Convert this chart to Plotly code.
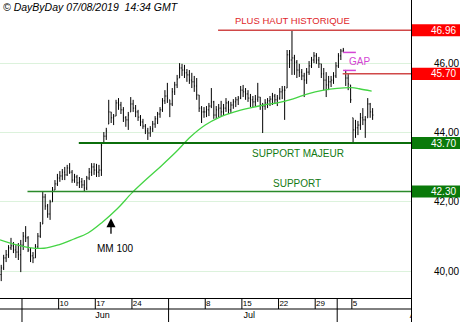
import pandas as pd
import plotly.graph_objects as go

# ---------------- data ----------------
SESSIONS = pd.bdate_range("2019-05-29", "2019-08-07")   # trading days shown
FIRST_JUNE = pd.Timestamp("2019-06-03")
BARS_PER_DAY = 3

bar_high = [40.18, 40.47, 40.61, 40.75, 40.96, 40.84, 40.75, 40.81, 40.90, 41.13,
            41.30, 41.01, 40.67, 40.55, 40.78, 41.10, 41.42, 42.29, 42.23, 41.94,
            42.06, 42.43, 42.63, 42.81, 42.89, 42.95, 43.01, 43.07, 43.12, 42.92,
            42.81, 42.78, 42.72, 42.69, 42.63, 42.75, 42.98, 43.12, 43.12, 43.10,
            43.07, 43.73, 44.02, 44.14, 44.95, 44.60, 44.54, 44.95, 45.00, 44.89,
            44.74, 44.48, 44.60, 45.03, 44.95, 44.80, 44.66, 44.51, 44.40, 44.25,
            44.14, 44.19, 44.34, 44.48, 44.60, 44.74, 45.00, 45.23, 45.44, 44.95,
            45.29, 45.47, 45.67, 46.01, 45.99, 45.96, 45.84, 45.81, 45.73, 45.64,
            45.58, 45.09, 44.77, 44.74, 44.77, 44.86, 45.29, 44.92, 44.77, 44.83,
            44.92, 44.83, 45.00, 44.92, 44.89, 44.97, 45.03, 45.06, 45.35, 45.38,
            45.29, 45.23, 45.12, 45.06, 45.09, 45.44, 45.03, 44.86, 44.97, 45.00,
            45.06, 45.15, 45.12, 45.09, 45.29, 45.35, 45.35, 46.39, 46.39, 46.96,
            46.25, 46.10, 45.99, 45.84, 45.73, 45.87, 46.07, 46.19, 46.33, 46.30,
            46.19, 45.99, 45.87, 45.75, 45.64, 45.64, 45.75, 46.04, 46.30, 46.42,
            46.45, 45.80, 45.70, 45.38, 44.43, 44.37, 44.34, 44.57, 44.71, 44.48,
            45.00, 44.86, 44.71]

bar_low = [39.71, 40.03, 40.26, 40.38, 40.61, 40.52, 40.38, 40.32, 39.97, 40.61,
           40.84, 40.55, 40.26, 40.23, 40.38, 40.64, 40.96, 41.36, 41.77, 41.54,
           41.48, 42.00, 42.34, 42.46, 42.58, 42.63, 42.63, 42.75, 42.81, 42.55,
           42.55, 42.46, 42.40, 42.40, 42.29, 42.34, 42.63, 42.75, 42.78, 42.72,
           42.72, 42.75, 43.70, 43.79, 44.25, 44.28, 44.22, 44.48, 44.66, 44.54,
           44.31, 44.17, 44.08, 44.60, 44.60, 44.45, 44.34, 44.19, 44.11, 43.96,
           43.79, 43.88, 44.02, 44.14, 44.25, 44.43, 44.60, 44.83, 44.86, 44.45,
           44.77, 45.09, 45.29, 45.58, 45.64, 45.58, 45.47, 45.41, 45.29, 45.18,
           44.95, 44.60, 44.28, 44.43, 44.45, 44.48, 44.71, 44.40, 44.40, 44.45,
           44.48, 44.51, 44.60, 44.54, 44.57, 44.69, 44.74, 44.80, 44.97, 45.03,
           44.95, 44.89, 44.74, 44.74, 44.77, 44.89, 44.66, 43.99, 44.66, 44.71,
           44.77, 44.80, 44.83, 44.77, 44.95, 44.97, 44.37, 45.29, 45.87, 45.67,
           45.67, 45.58, 45.61, 45.52, 45.03, 45.41, 45.67, 45.87, 46.01, 45.99,
           45.87, 45.58, 45.23, 45.03, 45.23, 45.32, 45.41, 45.58, 45.87, 46.10,
           46.32, 45.35, 45.23, 44.86, 43.72, 43.85, 43.93, 44.08, 44.22, 43.85,
           44.43, 44.43, 44.37]

bar_close = [40.09, 40.38, 40.47, 40.67, 40.73, 40.61, 40.55, 40.47, 40.75, 41.01,
             40.96, 40.61, 40.44, 40.38, 40.70, 41.01, 41.30, 42.14, 41.88, 41.65,
             42.00, 42.34, 42.52, 42.69, 42.75, 42.86, 42.78, 42.98, 42.86, 42.63,
             42.72, 42.55, 42.58, 42.49, 42.40, 42.69, 42.86, 43.01, 42.92, 42.86,
             42.92, 43.64, 43.90, 44.05, 44.60, 44.43, 44.48, 44.86, 44.80, 44.66,
             44.43, 44.37, 44.51, 44.83, 44.71, 44.60, 44.45, 44.31, 44.19, 44.05,
             43.99, 44.11, 44.25, 44.40, 44.54, 44.66, 44.92, 45.06, 45.00, 44.83,
             45.18, 45.38, 45.55, 45.87, 45.81, 45.73, 45.67, 45.52, 45.47, 45.35,
             45.09, 44.71, 44.60, 44.60, 44.66, 44.77, 44.89, 44.51, 44.66, 44.71,
             44.60, 44.71, 44.86, 44.66, 44.80, 44.89, 44.95, 45.00, 45.23, 45.18,
             45.12, 45.00, 44.95, 44.89, 44.97, 45.03, 44.80, 44.77, 44.86, 44.92,
             44.97, 45.06, 44.95, 45.00, 45.18, 45.23, 45.23, 46.25, 46.10, 46.16,
             46.04, 45.81, 45.75, 45.64, 45.52, 45.75, 45.93, 46.10, 46.22, 46.10,
             45.99, 45.70, 45.52, 45.38, 45.47, 45.52, 45.64, 45.93, 46.22, 46.36,
             46.39, 45.58, 45.41, 44.95, 44.08, 44.14, 44.22, 44.43, 44.37, 44.37,
             44.83, 44.60, 44.51]
first_open = 39.90

# 100-period moving average (trading-day index, value)
ma_day = [-3, -1, 1, 3, 5, 7, 9, 11, 13, 15, 17, 19, 21, 23, 25, 27, 29, 31,
          33, 35, 37, 39, 41, 43, 45, 46, 47.7]
ma_val = [40.90, 40.77, 40.68, 40.66, 40.76, 40.92, 41.10, 41.42, 41.80, 42.26,
          42.66, 43.04, 43.44, 43.88, 44.22, 44.45, 44.60, 44.71, 44.80, 44.87,
          44.98, 45.12, 45.22, 45.28, 45.30, 45.27, 45.20]

# horizontal levels and the session where each line starts
level_val = [46.96, 45.70, 43.70, 42.30]
level_start = ["2019-07-10", "2019-08-02", "2019-06-13", "2019-06-04"]
gap_top, gap_bottom = 46.32, 45.80

y_ticks = [40, 42, 44, 46]
week_dates = ["2019-06-10", "2019-06-17", "2019-06-24", "2019-07-08",
              "2019-07-15", "2019-07-22", "2019-07-29", "2019-08-05"]
week_labels = ["10", "17", "24", "8", "15", "22", "29", "5"]
month_dates = ["2019-06-03", "2019-07-01", "2019-08-01"]
month_labels = ["Jun", "Jul", "Aug"]

# ---------------- helpers ----------------
base = SESSIONS.get_loc(FIRST_JUNE)


def day_idx(date_str):
    return SESSIONS.get_loc(pd.Timestamp(date_str)) - base


bar_x = []
for i in range(len(SESSIONS)):
    for j in range(BARS_PER_DAY):
        bar_x.append(i - base + (j + 0.5) / BARS_PER_DAY)
n = len(bar_close)
bar_x = bar_x[:n]
bar_open = [first_open] + [min(max(bar_close[k - 1], bar_low[k]), bar_high[k]) for k in range(1, n)]

X_MIN, X_MAX = -3.0, 53.07
Y_MIN, Y_MAX = 39.222, 47.835
W, H = 460, 322
PLOT_R = 411 / W
STRIP = 24 / H

RED_LINE = "#d04848"
GREEN_DARK = "#0b6e0b"
GREEN_MID = "#2a8a2a"
MAGENTA = "#d445d4"
FONT = "Liberation Sans, Arial, sans-serif"

fig = go.Figure()

fig.add_trace(go.Ohlc(
    x=bar_x, open=bar_open, high=bar_high, low=bar_low, close=bar_close,
    increasing=dict(line=dict(color="black", width=1)),
    decreasing=dict(line=dict(color="black", width=1)),
    tickwidth=0.3, hoverinfo="skip", showlegend=False,
    xaxis="x", yaxis="y"))

fig.add_trace(go.Scatter(
    x=ma_day, y=ma_val, mode="lines",
    line=dict(color="#44d444", width=1.3, shape="spline", smoothing=1.0),
    hoverinfo="skip", showlegend=False, xaxis="x", yaxis="y"))

shapes = []
line_colors = [RED_LINE, RED_LINE, GREEN_DARK, GREEN_MID]
line_widths = [1.5, 1.5, 2, 1.5]
box_colors = ["#ff0000", "#ff0000", "#0a7a0a", "#0a7a0a"]
annotations = []
for v, s, c, w, bc in zip(level_val, level_start, line_colors, line_widths, box_colors):
    shapes.append(dict(type="line", xref="x", yref="y", x0=day_idx(s) - 0.25, x1=X_MAX,
                       y0=v, y1=v, line=dict(color=c, width=w)))
    shapes.append(dict(type="rect", xref="paper", yref="y", x0=412 / W, x1=1,
                       y0=v - 0.175, y1=v + 0.175, line=dict(width=0), fillcolor=bc))
    annotations.append(dict(xref="paper", yref="y", x=458 / W, y=v, xanchor="right",
                            yanchor="middle", text=f"{v:.2f}", showarrow=False,
                            font=dict(family=FONT, size=10, color="white")))

# gap markers
g0 = day_idx("2019-08-01") + 0.8
g1 = day_idx("2019-08-05") + 0.55
for gv in (gap_top, gap_bottom):
    shapes.append(dict(type="line", xref="x", yref="y", x0=g0, x1=g1, y0=gv, y1=gv,
                       line=dict(color=MAGENTA, width=1.5)))

# bottom strip: week / month separators
for d in week_dates:
    x = day_idx(d)
    shapes.append(dict(type="line", xref="x2", yref="y2", x0=x, x1=x, y0=13, y1=24,
                       line=dict(color="black", width=1)))
for d in month_dates:
    x = day_idx(d)
    shapes.append(dict(type="line", xref="x2", yref="y2", x0=x, x1=x, y0=0, y1=24,
                       line=dict(color="black", width=1)))
shapes.append(dict(type="line", xref="x2", yref="y2", x0=X_MIN, x1=X_MAX, y0=13, y1=13,
                   line=dict(color="black", width=1)))

fig.add_trace(go.Scatter(
    x=[day_idx(d) + 0.12 for d in week_dates], y=[18.5] * len(week_dates),
    mode="text", text=week_labels, textposition="middle right",
    textfont=dict(family=FONT, size=8, color="black"),
    hoverinfo="skip", showlegend=False, xaxis="x2", yaxis="y2"))
fig.add_trace(go.Scatter(
    x=[day_idx(d) + 11 for d in month_dates], y=[6.5] * len(month_dates),
    mode="text", text=month_labels, textposition="middle center",
    textfont=dict(family=FONT, size=9, color="black"),
    hoverinfo="skip", showlegend=False, xaxis="x2", yaxis="y2"))

# chart texts
annotations += [
    dict(xref="paper", yref="paper", x=1 / W, y=1 - 7 / H, xanchor="left", yanchor="middle",
         text="<i>© DayByDay 07/08/2019\u00a0\u00a014:34 GMT</i>", showarrow=False,
         font=dict(family=FONT, size=10.5, color="black")),
    dict(xref="x", yref="y", x=36.9, y=47.24, text="PLUS HAUT HISTORIQUE", showarrow=False,
         font=dict(family=FONT, size=9.5, color="#e0262a")),
    dict(xref="x", yref="y", x=37.6, y=43.385, text="SUPPORT MAJEUR", showarrow=False,
         font=dict(family=FONT, size=10, color="#137a13")),
    dict(xref="x", yref="y", x=37.5, y=42.52, text="SUPPORT", showarrow=False,
         font=dict(family=FONT, size=10, color="#137a13")),
    dict(xref="x", yref="y", x=46.0, y=46.07, text="GAP", showarrow=False,
         font=dict(family=FONT, size=10, color=MAGENTA)),
    dict(xref="x", yref="y", x=12.7, y=40.64, text="MM 100", showarrow=False,
         font=dict(family=FONT, size=10, color="black")),
    dict(xref="x", yref="y", x=12.14, y=41.53, text="", showarrow=True, ax=0, ay=17,
         arrowhead=2, arrowsize=1.4, arrowwidth=1.3, arrowcolor="black"),
]

fig.update_layout(
    width=W, height=H,
    margin=dict(l=0, r=0, t=0, b=0),
    paper_bgcolor="white", plot_bgcolor="white",
    separators=", ",
    showlegend=False,
    font=dict(family=FONT, size=10, color="black"),
    xaxis=dict(domain=[0, PLOT_R], anchor="y", range=[X_MIN, X_MAX],
               showline=True, linecolor="black", linewidth=1,
               showgrid=False, zeroline=False, showticklabels=False, ticks="",
               rangeslider=dict(visible=False)),
    yaxis=dict(domain=[STRIP, 1], anchor="x", side="right", range=[Y_MIN, Y_MAX],
               tickvals=y_ticks, tickformat=".2f", ticks="",
               ticklabelstandoff=20,
               showline=True, linecolor="black", linewidth=1,
               showgrid=True, gridcolor="#dcf2dc", gridwidth=1, zeroline=False,
               tickfont=dict(family=FONT, size=10, color="black")),
    xaxis2=dict(domain=[0, PLOT_R], anchor="y2", range=[X_MIN, X_MAX],
                showline=False, showgrid=False, zeroline=False, showticklabels=False,
                ticks=""),
    yaxis2=dict(domain=[0, STRIP], anchor="x2", side="right", range=[0, 24],
                showline=True, linecolor="black", linewidth=1,
                showgrid=False, zeroline=False, showticklabels=False, ticks=""),
    shapes=shapes,
    annotations=annotations,
)

fig.write_html("out.html")
